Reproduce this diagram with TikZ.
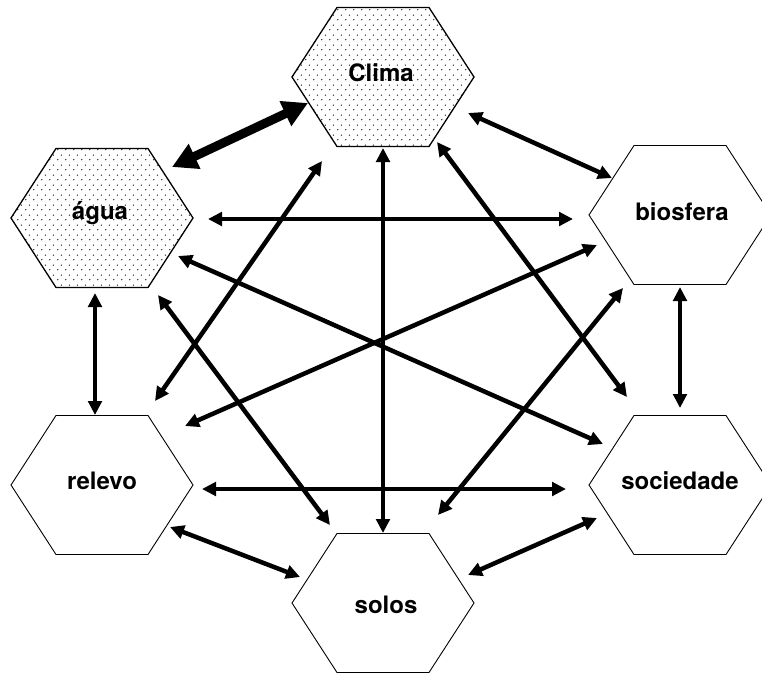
\documentclass[tikz,border=0pt]{standalone}
\usepackage{fontspec}
\setmainfont{TeX Gyre Heros}
\usetikzlibrary{arrows.meta,calc,patterns.meta}
\tikzdeclarepattern{
  name=hexdots,
  type=uncolored,
  bounding box={(0pt,0pt) and (8pt,10pt)},
  tile size={(8pt,10pt)},
  code={\fill (2pt,2.5pt) circle (0.75pt); \fill (6pt,7.5pt) circle (0.75pt);}
}
\tikzset{
  lbl/.style={font=\bfseries\fontsize{24}{28}\selectfont, inner sep=0pt, anchor=base},
  hexline/.style={draw=black, line width=0.9pt, line join=miter},
  hexfill/.style={draw=black, line width=1.3pt, line join=miter, pattern=hexdots},
  biarrow/.style={line width=4.5pt, {Triangle[length=14pt,width=13.5pt]}-{Triangle[length=14pt,width=13.5pt]}},
  bigarrow/.style={line width=9pt, {Triangle[length=25pt,width=26pt]}-{Triangle[length=25pt,width=26pt]}},
}
\newcommand\hexshape[2]{\path[#2] ($(#1)+(-91,0)$) -- ($(#1)+(-46,-69.5)$) -- ($(#1)+(46,-69.5)$) -- ($(#1)+(91,0)$) -- ($(#1)+(46,69.5)$) -- ($(#1)+(-46,69.5)$) -- cycle;}
\begin{document}
\begin{tikzpicture}[x=1pt,y=-1pt]
\useasboundingbox (0,0) rectangle (762,672);
\fill[white] (0,0) rectangle (762,672);
% centres
\coordinate (clima) at (383,77);
\coordinate (agua) at (102,218);
\coordinate (bio) at (680,215);
\coordinate (relevo) at (102,485);
\coordinate (soc) at (680,485);
\coordinate (solos) at (383,603);
% hexagons
\hexshape{clima}{hexfill}
\hexshape{agua}{hexfill}
\hexshape{bio}{hexline}
\hexshape{relevo}{hexline}
\hexshape{soc}{hexline}
\hexshape{solos}{hexline}
% labels
\node[lbl] (climaT) at ($(clima)+(-2,4)$) {Clima};
\node[lbl] (aguaT) at ($(agua)+(-2,1.5)$) {água};
\node[lbl] (bioT) at ($(bio)+(2,5)$) {biosfera};
\node[lbl] (relevoT) at ($(relevo)+(0,4)$) {relevo};
\node[lbl] (socT) at ($(soc)+(0,4)$) {sociedade};
\node[lbl] (solosT) at ($(solos)+(3,10)$) {solos};
% connectors
\draw[bigarrow] ($(agua)+(70,-51)$) -- ($(clima)+(-75,26)$);
\draw[biarrow] ($(clima)+(85,36)$) -- ($(bio)+(-68,-37)$);
\draw[biarrow] ($(agua)+(106,1)$) -- ($(bio)+(-107,4)$);
\draw[biarrow] ($(agua)+(-7,75)$) -- ($(relevo)+(-7,-70)$);
\draw[biarrow] ($(bio)+(0,72)$) -- ($(soc)+(0,-77)$);
\draw[biarrow] ($(relevo)+(100,4)$) -- ($(soc)+(-114,4)$);
\draw[biarrow] ($(relevo)+(68,42)$) -- ($(solos)+(-83,-26)$);
\draw[biarrow] ($(soc)+(-83,33)$) -- ($(solos)+(85,-28)$);
\draw[biarrow] ($(clima)+(0,71)$) -- ($(solos)+(0,-70)$);
\draw[biarrow] ($(clima)+(-61,84)$) -- ($(relevo)+(53,-84)$);
\draw[biarrow] ($(clima)+(54,65)$) -- ($(soc)+(-53,-88)$);
\draw[biarrow] ($(agua)+(76,38)$) -- ($(soc)+(-77,-41)$);
\draw[biarrow] ($(bio)+(-83,30)$) -- ($(relevo)+(83,-59)$);
\draw[biarrow] ($(agua)+(56,77)$) -- ($(solos)+(-53,-78)$);
\draw[biarrow] ($(bio)+(-57,73)$) -- ($(solos)+(55,-88)$);
\end{tikzpicture}
\end{document}
